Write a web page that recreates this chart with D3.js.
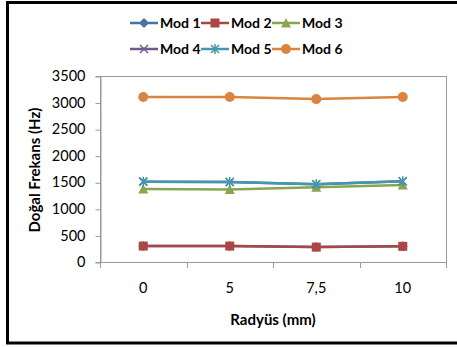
<!DOCTYPE html>
<html>
<head>
<meta charset="utf-8">
<script src="https://d3js.org/d3.v7.min.js"></script>
<style>
  body { margin: 0; background: #fff; }
  text { font-family: Lato, "Liberation Sans", sans-serif; fill: #000; }
</style>
</head>
<body>
<svg id="chart" width="457" height="347"></svg>
<script>
// data
var categories = ["0", "5", "7,5", "10"];
var seriesNames = ["Mod 1", "Mod 2", "Mod 3", "Mod 4", "Mod 5", "Mod 6"];
var mod1 = [300, 300, 280, 295];
var mod2 = [300, 300, 280, 295];
var mod3 = [1375, 1362, 1405, 1450];
var mod4 = [1512, 1505, 1462, 1518];
var mod5 = [1512, 1505, 1462, 1518];
var mod6 = [3105, 3105, 3065, 3105];
var yTicks = [0, 500, 1000, 1500, 2000, 2500, 3000, 3500];

var colors = ["#4572A7", "#AA4643", "#89A54E", "#71588F", "#4198AF", "#DB843D"];
var shapes = ["diamond", "square", "triangle", "cross", "star", "circle"];
var allSeries = [mod1, mod2, mod3, mod4, mod5, mod6];

var svg = d3.select("#chart");
var margin = {top: 76, left: 100},
    width = 346,
    height = 186;

// outer frame (right side runs off the picture)
svg.append("rect")
   .attr("x", 7.5).attr("y", 2.5)
   .attr("width", 470).attr("height", 340.5)
   .attr("fill", "none").attr("stroke", "#000").attr("stroke-width", 3);

var g = svg.append("g").attr("transform", "translate(" + margin.left + "," + margin.top + ")");

var x = d3.scaleBand().domain(categories).range([0, width]);
var y = d3.scaleLinear().domain([0, 3500]).range([height, 0]);

// plot area border
g.append("rect")
 .attr("x", 0.5).attr("y", 0.5)
 .attr("width", width).attr("height", height)
 .attr("fill", "none").attr("stroke", "#999");

var yAxis = g.append("g")
   .attr("transform", "translate(0.5,0)")
   .call(d3.axisLeft(y).tickValues(yTicks).tickFormat(d3.format("d")).tickSize(5).tickPadding(10));
yAxis.select(".domain").attr("stroke", "#999");
yAxis.selectAll(".tick line").attr("stroke", "#999").attr("transform", "translate(0,0.5)");
yAxis.selectAll(".tick text").attr("font-size", 14.5).attr("font-family", "Lato").attr("fill", "#000");

var xAxis = g.append("g")
   .attr("transform", "translate(0," + (height + 0.5) + ")")
   .call(d3.axisBottom(x).tickSize(0).tickPadding(20));
xAxis.select(".domain").remove();
xAxis.selectAll(".tick text").attr("font-size", 14.5).attr("font-family", "Lato").attr("fill", "#000");

// category boundary ticks
g.selectAll(".xt")
 .data(d3.range(categories.length + 1))
 .enter().append("line")
 .attr("class", "xt")
 .attr("x1", function (d) { return Math.round(d * x.step()) + 0.5; })
 .attr("x2", function (d) { return Math.round(d * x.step()) + 0.5; })
 .attr("y1", height).attr("y2", height + 6)
 .attr("stroke", "#999");

var cx = function (d, i) { return x(categories[i]) + x.bandwidth() / 2; };

var line = d3.line()
   .x(cx)
   .y(function (d) { return y(d); });

function marker(sel, shape, color) {
  if (shape == "circle") {
    sel.append("circle").attr("r", 5).attr("fill", color);
  } else if (shape == "square") {
    sel.append("rect").attr("x", -4.5).attr("y", -4.5).attr("width", 9).attr("height", 9).attr("fill", color);
  } else if (shape == "diamond") {
    sel.append("path").attr("d", "M0,-5L5,0L0,5L-5,0Z").attr("fill", color);
  } else if (shape == "triangle") {
    sel.append("path").attr("d", "M0,-5L5,4.5L-5,4.5Z").attr("fill", color);
  } else if (shape == "cross") {
    sel.append("path").attr("d", "M-4,-4L4,4M-4,4L4,-4").attr("stroke", color).attr("stroke-width", 1.5);
  } else if (shape == "star") {
    sel.append("path").attr("d", "M-4,-4L4,4M-4,4L4,-4M0,-5L0,5").attr("stroke", color).attr("stroke-width", 1.5);
  }
}

allSeries.forEach(function (vals, s) {
  g.append("path")
   .datum(vals)
   .attr("fill", "none")
   .attr("stroke", colors[s])
   .attr("stroke-width", 2.5)
   .attr("d", line);

  g.selectAll(".m" + s)
   .data(vals)
   .enter().append("g")
   .attr("class", "m" + s)
   .attr("transform", function (d, i) { return "translate(" + cx(d, i) + "," + y(d) + ")"; })
   .each(function () { marker(d3.select(this), shapes[s], colors[s]); });
});

// legend, two rows of three
var leg = svg.selectAll(".leg")
   .data(seriesNames)
   .enter().append("g")
   .attr("class", "leg")
   .attr("transform", function (d, i) {
     return "translate(" + (130 + (i % 3) * 71) + "," + (23 + Math.floor(i / 3) * 26) + ")";
   });
leg.append("line")
   .attr("x1", 0).attr("x2", 28)
   .attr("stroke", function (d, i) { return colors[i]; })
   .attr("stroke-width", 2.5);
leg.each(function (d, i) {
  var m = d3.select(this).append("g").attr("transform", "translate(14,0)");
  marker(m, shapes[i], colors[i]);
});
leg.append("text")
   .attr("x", 30).attr("y", 5)
   .attr("font-size", 14).attr("font-weight", "bold")
   .text(function (d) { return d; });

// axis titles
svg.append("text")
   .attr("transform", "translate(40,170) rotate(-90)")
   .attr("text-anchor", "middle")
   .attr("font-size", 15).attr("font-weight", "bold")
   .text("Doğal Frekans (Hz)");

svg.append("text")
   .attr("x", 273).attr("y", 325)
   .attr("text-anchor", "middle")
   .attr("font-size", 15).attr("font-weight", "bold")
   .text("Radyüs (mm)");
</script>
</body>
</html>
